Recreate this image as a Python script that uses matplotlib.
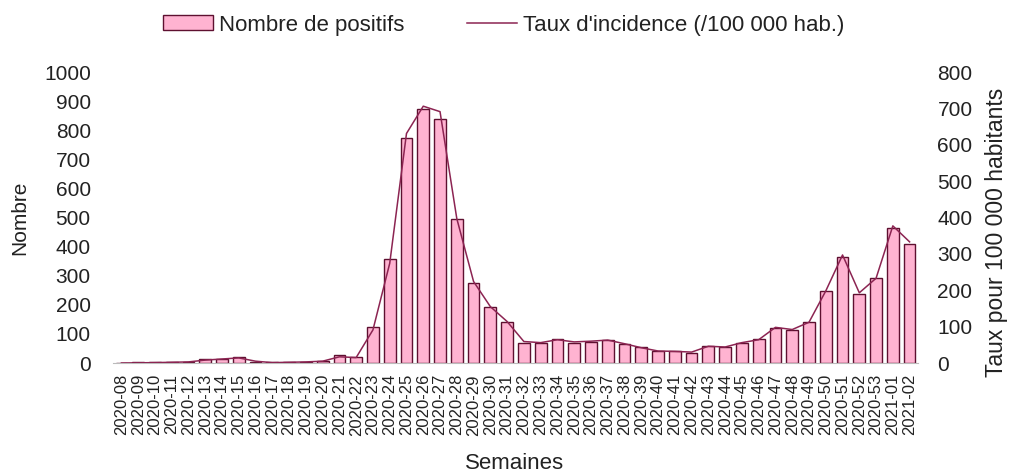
import matplotlib
matplotlib.use("Agg")
import matplotlib.pyplot as plt
import numpy as np

plt.rcParams['font.family'] = ['Liberation Sans', 'DejaVu Sans']

semaines = [f"2020-{w:02d}" for w in range(8, 54)] + ["2021-01", "2021-02"]

positifs = [1, 2, 2, 4, 5, 15, 15, 20, 5, 2, 4, 4, 6, 26, 22,
            125, 356, 772, 872, 840, 496, 274, 194,
            140, 70, 70, 81, 70, 73, 79, 65, 54, 41, 41, 36, 58, 56, 68, 81,
            119, 113, 140, 248, 365, 237, 291, 463, 409]

taux = [0, 0.5, 1, 2, 3, 8, 11, 14, 5, 1, 2, 3, 5, 17, 15,
        91, 274, 631, 706, 691, 397, 224, 155,
        114, 59, 56, 64, 58, 60, 63, 53, 42, 33, 32, 30, 46, 44, 56, 64,
        98, 92, 112, 198, 297, 193, 233, 377, 333]

bar_color = '#FFB3D1'
edge_color = '#5E1030'
line_color = '#8C2452'
text_color = '#222222'

W, H = 1011, 473
fig = plt.figure(figsize=(W / 100, H / 100), dpi=100)
ax = fig.add_axes([113 / W, 1 - 363 / H, 805 / W, 291 / H])
ax2 = ax.twinx()

x = np.arange(len(semaines))
bars = ax.bar(x, positifs, width=0.7, color=bar_color, edgecolor=edge_color,
              linewidth=1.0, zorder=2)
line, = ax2.plot(x, taux, color=line_color, linewidth=1.1, zorder=3)

ax.set_xlim(-0.5, len(semaines) - 0.5)
ax.set_ylim(0, 1000)
ax2.set_ylim(0, 800)
ax.set_yticks(np.arange(0, 1001, 100))
ax2.set_yticks(np.arange(0, 801, 100))

ax.set_xticks(x)
ax.set_xticklabels(semaines, rotation=90)

for a in (ax, ax2):
    for s in ('top', 'left', 'right', 'bottom'):
        a.spines[s].set_visible(False)
    a.tick_params(length=0, labelsize=15, colors=text_color)
ax.spines['bottom'].set_visible(True)
ax.spines['bottom'].set_color('#BBBBBB')
ax.tick_params(axis='x', labelsize=12, pad=8)
ax.tick_params(axis='y', pad=16)
ax2.tick_params(axis='y', pad=14)

ax.set_ylabel('Nombre', fontsize=15, color=text_color, va='center')
ax.yaxis.set_label_coords(-0.1155, 0.5)
ax2.set_ylabel('Taux pour 100 000 habitants', fontsize=16.5, color=text_color, va='center')
ax2.yaxis.set_label_coords(1.097, 0.45)
ax.set_xlabel('Semaines', fontsize=16, color=text_color, va='center')
ax.xaxis.set_label_coords(0.4985, -100 / 291)

ax2.set_zorder(ax.get_zorder() + 1)
ax2.patch.set_visible(False)

common = dict(frameon=False, fontsize=16, handlelength=2.25, handleheight=0.63,
              handletextpad=0.25, borderpad=0, borderaxespad=0, labelcolor=text_color)
fig.legend([bars], ['Nombre de positifs'], loc='center left',
           bbox_to_anchor=(163 / W, 1 - 25 / H), **common)
fig.legend([line], ["Taux d'incidence (/100 000 hab.)"], loc='center left',
           bbox_to_anchor=(467 / W, 1 - 25 / H), **common)

fig.savefig('out.png', dpi=100)
